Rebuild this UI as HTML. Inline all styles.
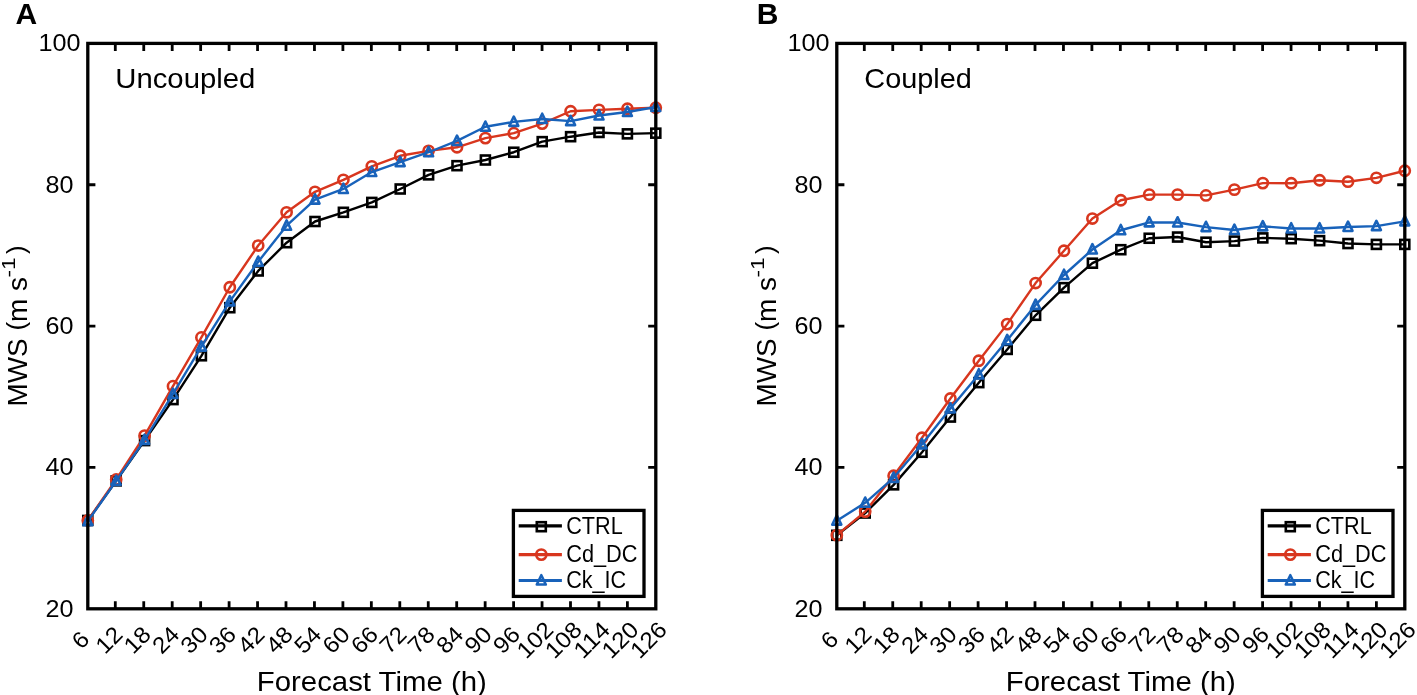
<!DOCTYPE html>
<html><head><meta charset="utf-8"><title>MWS</title>
<style>
html,body{margin:0;padding:0;background:#fff;width:1417px;height:695px;overflow:hidden;}
svg{display:block;will-change:transform;}
text{font-family:"Liberation Sans",sans-serif;fill:#000;}
</style></head><body>
<svg width="1417" height="695" viewBox="0 0 1417 695">
<rect width="1417" height="695" fill="#fff"/>
<text x="59.40" y="616.80" text-anchor="middle" font-size="23" textLength="28.0" lengthAdjust="spacingAndGlyphs">20</text>
<text x="59.40" y="475.45" text-anchor="middle" font-size="23" textLength="28.0" lengthAdjust="spacingAndGlyphs">40</text>
<text x="59.40" y="334.10" text-anchor="middle" font-size="23" textLength="28.0" lengthAdjust="spacingAndGlyphs">60</text>
<text x="59.40" y="192.75" text-anchor="middle" font-size="23" textLength="28.0" lengthAdjust="spacingAndGlyphs">80</text>
<text x="59.40" y="51.40" text-anchor="middle" font-size="23" textLength="42.0" lengthAdjust="spacingAndGlyphs">100</text>
<text transform="translate(80.40,639.80) rotate(-45)" x="0" y="8.0" text-anchor="middle" font-size="23" textLength="13.5" lengthAdjust="spacingAndGlyphs">6</text>
<text transform="translate(108.80,639.80) rotate(-45)" x="0" y="8.0" text-anchor="middle" font-size="23" textLength="27.0" lengthAdjust="spacingAndGlyphs">12</text>
<text transform="translate(137.20,639.80) rotate(-45)" x="0" y="8.0" text-anchor="middle" font-size="23" textLength="27.0" lengthAdjust="spacingAndGlyphs">18</text>
<text transform="translate(165.60,639.80) rotate(-45)" x="0" y="8.0" text-anchor="middle" font-size="23" textLength="27.0" lengthAdjust="spacingAndGlyphs">24</text>
<text transform="translate(194.00,639.80) rotate(-45)" x="0" y="8.0" text-anchor="middle" font-size="23" textLength="27.0" lengthAdjust="spacingAndGlyphs">30</text>
<text transform="translate(222.40,639.80) rotate(-45)" x="0" y="8.0" text-anchor="middle" font-size="23" textLength="27.0" lengthAdjust="spacingAndGlyphs">36</text>
<text transform="translate(250.80,639.80) rotate(-45)" x="0" y="8.0" text-anchor="middle" font-size="23" textLength="27.0" lengthAdjust="spacingAndGlyphs">42</text>
<text transform="translate(279.20,639.80) rotate(-45)" x="0" y="8.0" text-anchor="middle" font-size="23" textLength="27.0" lengthAdjust="spacingAndGlyphs">48</text>
<text transform="translate(307.60,639.80) rotate(-45)" x="0" y="8.0" text-anchor="middle" font-size="23" textLength="27.0" lengthAdjust="spacingAndGlyphs">54</text>
<text transform="translate(336.00,639.80) rotate(-45)" x="0" y="8.0" text-anchor="middle" font-size="23" textLength="27.0" lengthAdjust="spacingAndGlyphs">60</text>
<text transform="translate(364.40,639.80) rotate(-45)" x="0" y="8.0" text-anchor="middle" font-size="23" textLength="27.0" lengthAdjust="spacingAndGlyphs">66</text>
<text transform="translate(392.80,639.80) rotate(-45)" x="0" y="8.0" text-anchor="middle" font-size="23" textLength="27.0" lengthAdjust="spacingAndGlyphs">72</text>
<text transform="translate(421.20,639.80) rotate(-45)" x="0" y="8.0" text-anchor="middle" font-size="23" textLength="27.0" lengthAdjust="spacingAndGlyphs">78</text>
<text transform="translate(449.60,639.80) rotate(-45)" x="0" y="8.0" text-anchor="middle" font-size="23" textLength="27.0" lengthAdjust="spacingAndGlyphs">84</text>
<text transform="translate(478.00,639.80) rotate(-45)" x="0" y="8.0" text-anchor="middle" font-size="23" textLength="27.0" lengthAdjust="spacingAndGlyphs">90</text>
<text transform="translate(506.40,639.80) rotate(-45)" x="0" y="8.0" text-anchor="middle" font-size="23" textLength="27.0" lengthAdjust="spacingAndGlyphs">96</text>
<text transform="translate(534.80,639.80) rotate(-45)" x="0" y="8.0" text-anchor="middle" font-size="23" textLength="40.5" lengthAdjust="spacingAndGlyphs">102</text>
<text transform="translate(563.20,639.80) rotate(-45)" x="0" y="8.0" text-anchor="middle" font-size="23" textLength="40.5" lengthAdjust="spacingAndGlyphs">108</text>
<text transform="translate(591.60,639.80) rotate(-45)" x="0" y="8.0" text-anchor="middle" font-size="23" textLength="40.5" lengthAdjust="spacingAndGlyphs">114</text>
<text transform="translate(620.00,639.80) rotate(-45)" x="0" y="8.0" text-anchor="middle" font-size="23" textLength="40.5" lengthAdjust="spacingAndGlyphs">120</text>
<text transform="translate(648.40,639.80) rotate(-45)" x="0" y="8.0" text-anchor="middle" font-size="23" textLength="40.5" lengthAdjust="spacingAndGlyphs">126</text>
<text x="371.80" y="690.6" text-anchor="middle" font-size="27.5" textLength="230" lengthAdjust="spacingAndGlyphs">Forecast Time (h)</text>
<g transform="translate(27.40,404.9) rotate(-90)"><text x="-1.6" y="0" font-size="27.5" textLength="129.5" lengthAdjust="spacingAndGlyphs">MWS <tspan dy="-2.6" font-size="25.7">(</tspan><tspan dy="2.6">m s</tspan></text><text x="127.5" y="-12.7" font-size="18.6" textLength="20" lengthAdjust="spacingAndGlyphs">-1</text><text x="151" y="-2.6" font-size="25.7">)</text></g>
<text x="115.30" y="88.4" font-size="28" textLength="140" lengthAdjust="spacingAndGlyphs">Uncoupled</text>
<text x="15.40" y="24.2" font-size="30" font-weight="bold">A</text>
<path d="M87.80 520.46 L116.20 480.88 L144.60 440.59 L173.00 399.60 L201.40 355.78 L229.80 307.72 L258.20 270.97 L286.60 242.70 L315.00 221.50 L343.40 212.31 L371.80 202.42 L400.20 188.99 L428.60 174.86 L457.00 165.67 L485.40 160.01 L513.80 152.24 L542.20 141.64 L570.60 136.69 L599.00 132.45 L627.40 133.86 L655.80 133.16" fill="none" stroke="#000000" stroke-width="2.4" stroke-linejoin="round"/><rect x="83.30" y="515.96" width="9.00" height="9.00" fill="none" stroke="#000000" stroke-width="2.6"/><rect x="111.70" y="476.38" width="9.00" height="9.00" fill="none" stroke="#000000" stroke-width="2.6"/><rect x="140.10" y="436.09" width="9.00" height="9.00" fill="none" stroke="#000000" stroke-width="2.6"/><rect x="168.50" y="395.10" width="9.00" height="9.00" fill="none" stroke="#000000" stroke-width="2.6"/><rect x="196.90" y="351.28" width="9.00" height="9.00" fill="none" stroke="#000000" stroke-width="2.6"/><rect x="225.30" y="303.22" width="9.00" height="9.00" fill="none" stroke="#000000" stroke-width="2.6"/><rect x="253.70" y="266.47" width="9.00" height="9.00" fill="none" stroke="#000000" stroke-width="2.6"/><rect x="282.10" y="238.20" width="9.00" height="9.00" fill="none" stroke="#000000" stroke-width="2.6"/><rect x="310.50" y="217.00" width="9.00" height="9.00" fill="none" stroke="#000000" stroke-width="2.6"/><rect x="338.90" y="207.81" width="9.00" height="9.00" fill="none" stroke="#000000" stroke-width="2.6"/><rect x="367.30" y="197.92" width="9.00" height="9.00" fill="none" stroke="#000000" stroke-width="2.6"/><rect x="395.70" y="184.49" width="9.00" height="9.00" fill="none" stroke="#000000" stroke-width="2.6"/><rect x="424.10" y="170.36" width="9.00" height="9.00" fill="none" stroke="#000000" stroke-width="2.6"/><rect x="452.50" y="161.17" width="9.00" height="9.00" fill="none" stroke="#000000" stroke-width="2.6"/><rect x="480.90" y="155.51" width="9.00" height="9.00" fill="none" stroke="#000000" stroke-width="2.6"/><rect x="509.30" y="147.74" width="9.00" height="9.00" fill="none" stroke="#000000" stroke-width="2.6"/><rect x="537.70" y="137.14" width="9.00" height="9.00" fill="none" stroke="#000000" stroke-width="2.6"/><rect x="566.10" y="132.19" width="9.00" height="9.00" fill="none" stroke="#000000" stroke-width="2.6"/><rect x="594.50" y="127.95" width="9.00" height="9.00" fill="none" stroke="#000000" stroke-width="2.6"/><rect x="622.90" y="129.36" width="9.00" height="9.00" fill="none" stroke="#000000" stroke-width="2.6"/><rect x="651.30" y="128.66" width="9.00" height="9.00" fill="none" stroke="#000000" stroke-width="2.6"/>
<path d="M87.80 520.46 L116.20 479.46 L144.60 435.65 L173.00 386.17 L201.40 337.41 L229.80 287.23 L258.20 245.53 L286.60 212.31 L315.00 191.82 L343.40 179.80 L371.80 166.37 L400.20 155.77 L428.60 150.83 L457.00 147.29 L485.40 138.10 L513.80 133.16 L542.20 123.62 L570.60 111.25 L599.00 109.83 L627.40 108.77 L655.80 107.71" fill="none" stroke="#D8361E" stroke-width="2.4" stroke-linejoin="round"/><circle cx="87.80" cy="520.46" r="5.10" fill="none" stroke="#D8361E" stroke-width="2.6"/><circle cx="116.20" cy="479.46" r="5.10" fill="none" stroke="#D8361E" stroke-width="2.6"/><circle cx="144.60" cy="435.65" r="5.10" fill="none" stroke="#D8361E" stroke-width="2.6"/><circle cx="173.00" cy="386.17" r="5.10" fill="none" stroke="#D8361E" stroke-width="2.6"/><circle cx="201.40" cy="337.41" r="5.10" fill="none" stroke="#D8361E" stroke-width="2.6"/><circle cx="229.80" cy="287.23" r="5.10" fill="none" stroke="#D8361E" stroke-width="2.6"/><circle cx="258.20" cy="245.53" r="5.10" fill="none" stroke="#D8361E" stroke-width="2.6"/><circle cx="286.60" cy="212.31" r="5.10" fill="none" stroke="#D8361E" stroke-width="2.6"/><circle cx="315.00" cy="191.82" r="5.10" fill="none" stroke="#D8361E" stroke-width="2.6"/><circle cx="343.40" cy="179.80" r="5.10" fill="none" stroke="#D8361E" stroke-width="2.6"/><circle cx="371.80" cy="166.37" r="5.10" fill="none" stroke="#D8361E" stroke-width="2.6"/><circle cx="400.20" cy="155.77" r="5.10" fill="none" stroke="#D8361E" stroke-width="2.6"/><circle cx="428.60" cy="150.83" r="5.10" fill="none" stroke="#D8361E" stroke-width="2.6"/><circle cx="457.00" cy="147.29" r="5.10" fill="none" stroke="#D8361E" stroke-width="2.6"/><circle cx="485.40" cy="138.10" r="5.10" fill="none" stroke="#D8361E" stroke-width="2.6"/><circle cx="513.80" cy="133.16" r="5.10" fill="none" stroke="#D8361E" stroke-width="2.6"/><circle cx="542.20" cy="123.62" r="5.10" fill="none" stroke="#D8361E" stroke-width="2.6"/><circle cx="570.60" cy="111.25" r="5.10" fill="none" stroke="#D8361E" stroke-width="2.6"/><circle cx="599.00" cy="109.83" r="5.10" fill="none" stroke="#D8361E" stroke-width="2.6"/><circle cx="627.40" cy="108.77" r="5.10" fill="none" stroke="#D8361E" stroke-width="2.6"/><circle cx="655.80" cy="107.71" r="5.10" fill="none" stroke="#D8361E" stroke-width="2.6"/>
<path d="M87.80 521.16 L116.20 480.88 L144.60 439.89 L173.00 393.95 L201.40 346.60 L229.80 301.36 L258.20 261.79 L286.60 225.74 L315.00 199.59 L343.40 188.99 L371.80 172.03 L400.20 162.13 L428.60 152.24 L457.00 140.93 L485.40 126.80 L513.80 121.85 L542.20 119.02 L570.60 121.14 L599.00 115.49 L627.40 111.95 L655.80 107.01" fill="none" stroke="#1862BA" stroke-width="2.4" stroke-linejoin="round"/><path d="M87.80 515.86L92.30 525.16L83.30 525.16Z" fill="none" stroke="#1862BA" stroke-width="2.6" stroke-linejoin="round"/><path d="M116.20 475.58L120.70 484.88L111.70 484.88Z" fill="none" stroke="#1862BA" stroke-width="2.6" stroke-linejoin="round"/><path d="M144.60 434.59L149.10 443.89L140.10 443.89Z" fill="none" stroke="#1862BA" stroke-width="2.6" stroke-linejoin="round"/><path d="M173.00 388.65L177.50 397.95L168.50 397.95Z" fill="none" stroke="#1862BA" stroke-width="2.6" stroke-linejoin="round"/><path d="M201.40 341.30L205.90 350.60L196.90 350.60Z" fill="none" stroke="#1862BA" stroke-width="2.6" stroke-linejoin="round"/><path d="M229.80 296.06L234.30 305.36L225.30 305.36Z" fill="none" stroke="#1862BA" stroke-width="2.6" stroke-linejoin="round"/><path d="M258.20 256.49L262.70 265.79L253.70 265.79Z" fill="none" stroke="#1862BA" stroke-width="2.6" stroke-linejoin="round"/><path d="M286.60 220.44L291.10 229.74L282.10 229.74Z" fill="none" stroke="#1862BA" stroke-width="2.6" stroke-linejoin="round"/><path d="M315.00 194.29L319.50 203.59L310.50 203.59Z" fill="none" stroke="#1862BA" stroke-width="2.6" stroke-linejoin="round"/><path d="M343.40 183.69L347.90 192.99L338.90 192.99Z" fill="none" stroke="#1862BA" stroke-width="2.6" stroke-linejoin="round"/><path d="M371.80 166.73L376.30 176.03L367.30 176.03Z" fill="none" stroke="#1862BA" stroke-width="2.6" stroke-linejoin="round"/><path d="M400.20 156.83L404.70 166.13L395.70 166.13Z" fill="none" stroke="#1862BA" stroke-width="2.6" stroke-linejoin="round"/><path d="M428.60 146.94L433.10 156.24L424.10 156.24Z" fill="none" stroke="#1862BA" stroke-width="2.6" stroke-linejoin="round"/><path d="M457.00 135.63L461.50 144.93L452.50 144.93Z" fill="none" stroke="#1862BA" stroke-width="2.6" stroke-linejoin="round"/><path d="M485.40 121.50L489.90 130.80L480.90 130.80Z" fill="none" stroke="#1862BA" stroke-width="2.6" stroke-linejoin="round"/><path d="M513.80 116.55L518.30 125.85L509.30 125.85Z" fill="none" stroke="#1862BA" stroke-width="2.6" stroke-linejoin="round"/><path d="M542.20 113.72L546.70 123.02L537.70 123.02Z" fill="none" stroke="#1862BA" stroke-width="2.6" stroke-linejoin="round"/><path d="M570.60 115.84L575.10 125.14L566.10 125.14Z" fill="none" stroke="#1862BA" stroke-width="2.6" stroke-linejoin="round"/><path d="M599.00 110.19L603.50 119.49L594.50 119.49Z" fill="none" stroke="#1862BA" stroke-width="2.6" stroke-linejoin="round"/><path d="M627.40 106.65L631.90 115.95L622.90 115.95Z" fill="none" stroke="#1862BA" stroke-width="2.6" stroke-linejoin="round"/><path d="M655.80 101.71L660.30 111.01L651.30 111.01Z" fill="none" stroke="#1862BA" stroke-width="2.6" stroke-linejoin="round"/>
<path d="M115.30 608.80V601.20M115.30 43.40V51.00M143.75 608.80V601.20M143.75 43.40V51.00M172.20 608.80V601.20M172.20 43.40V51.00M200.65 608.80V601.20M200.65 43.40V51.00M229.10 608.80V601.20M229.10 43.40V51.00M257.55 608.80V601.20M257.55 43.40V51.00M286.00 608.80V601.20M286.00 43.40V51.00M314.45 608.80V601.20M314.45 43.40V51.00M342.90 608.80V601.20M342.90 43.40V51.00M371.35 608.80V601.20M371.35 43.40V51.00M399.80 608.80V601.20M399.80 43.40V51.00M428.25 608.80V601.20M428.25 43.40V51.00M456.70 608.80V601.20M456.70 43.40V51.00M485.15 608.80V601.20M485.15 43.40V51.00M513.60 608.80V601.20M513.60 43.40V51.00M542.05 608.80V601.20M542.05 43.40V51.00M570.50 608.80V601.20M570.50 43.40V51.00M598.95 608.80V601.20M598.95 43.40V51.00M627.40 608.80V601.20M627.40 43.40V51.00M87.80 467.45H95.40M655.80 467.45H648.20M87.80 326.10H95.40M655.80 326.10H648.20M87.80 184.75H95.40M655.80 184.75H648.20" stroke="#000" stroke-width="2.8" fill="none"/>
<rect x="87.80" y="43.40" width="568.00" height="565.40" fill="none" stroke="#000" stroke-width="3.3"/>
<rect x="513.40" y="510.40" width="130.6" height="86" fill="#fff" stroke="#000" stroke-width="3.3"/>
<path d="M518.70 525.90H561.90" stroke="#000000" stroke-width="3.2"/>
<rect x="536.80" y="522.20" width="9.00" height="9.00" fill="none" stroke="#000000" stroke-width="2.6"/>
<text x="566.20" y="533.80" font-size="23" textLength="56.5" lengthAdjust="spacingAndGlyphs">CTRL</text>
<path d="M518.70 554.60H561.90" stroke="#D8361E" stroke-width="3.2"/>
<circle cx="541.30" cy="554.60" r="5.10" fill="none" stroke="#D8361E" stroke-width="2.6"/>
<text x="566.20" y="561.80" font-size="23" textLength="71.3" lengthAdjust="spacingAndGlyphs">Cd_DC</text>
<path d="M518.70 580.50H561.90" stroke="#1862BA" stroke-width="3.2"/>
<path d="M541.30 575.20L545.80 584.50L536.80 584.50Z" fill="none" stroke="#1862BA" stroke-width="2.6" stroke-linejoin="round"/>
<text x="566.20" y="587.90" font-size="23" textLength="60.0" lengthAdjust="spacingAndGlyphs">Ck_IC</text>
<text x="808.40" y="616.80" text-anchor="middle" font-size="23" textLength="28.0" lengthAdjust="spacingAndGlyphs">20</text>
<text x="808.40" y="475.45" text-anchor="middle" font-size="23" textLength="28.0" lengthAdjust="spacingAndGlyphs">40</text>
<text x="808.40" y="334.10" text-anchor="middle" font-size="23" textLength="28.0" lengthAdjust="spacingAndGlyphs">60</text>
<text x="808.40" y="192.75" text-anchor="middle" font-size="23" textLength="28.0" lengthAdjust="spacingAndGlyphs">80</text>
<text x="808.40" y="51.40" text-anchor="middle" font-size="23" textLength="42.0" lengthAdjust="spacingAndGlyphs">100</text>
<text transform="translate(829.40,639.80) rotate(-45)" x="0" y="8.0" text-anchor="middle" font-size="23" textLength="13.5" lengthAdjust="spacingAndGlyphs">6</text>
<text transform="translate(857.80,639.80) rotate(-45)" x="0" y="8.0" text-anchor="middle" font-size="23" textLength="27.0" lengthAdjust="spacingAndGlyphs">12</text>
<text transform="translate(886.20,639.80) rotate(-45)" x="0" y="8.0" text-anchor="middle" font-size="23" textLength="27.0" lengthAdjust="spacingAndGlyphs">18</text>
<text transform="translate(914.60,639.80) rotate(-45)" x="0" y="8.0" text-anchor="middle" font-size="23" textLength="27.0" lengthAdjust="spacingAndGlyphs">24</text>
<text transform="translate(943.00,639.80) rotate(-45)" x="0" y="8.0" text-anchor="middle" font-size="23" textLength="27.0" lengthAdjust="spacingAndGlyphs">30</text>
<text transform="translate(971.40,639.80) rotate(-45)" x="0" y="8.0" text-anchor="middle" font-size="23" textLength="27.0" lengthAdjust="spacingAndGlyphs">36</text>
<text transform="translate(999.80,639.80) rotate(-45)" x="0" y="8.0" text-anchor="middle" font-size="23" textLength="27.0" lengthAdjust="spacingAndGlyphs">42</text>
<text transform="translate(1028.20,639.80) rotate(-45)" x="0" y="8.0" text-anchor="middle" font-size="23" textLength="27.0" lengthAdjust="spacingAndGlyphs">48</text>
<text transform="translate(1056.60,639.80) rotate(-45)" x="0" y="8.0" text-anchor="middle" font-size="23" textLength="27.0" lengthAdjust="spacingAndGlyphs">54</text>
<text transform="translate(1085.00,639.80) rotate(-45)" x="0" y="8.0" text-anchor="middle" font-size="23" textLength="27.0" lengthAdjust="spacingAndGlyphs">60</text>
<text transform="translate(1113.40,639.80) rotate(-45)" x="0" y="8.0" text-anchor="middle" font-size="23" textLength="27.0" lengthAdjust="spacingAndGlyphs">66</text>
<text transform="translate(1141.80,639.80) rotate(-45)" x="0" y="8.0" text-anchor="middle" font-size="23" textLength="27.0" lengthAdjust="spacingAndGlyphs">72</text>
<text transform="translate(1170.20,639.80) rotate(-45)" x="0" y="8.0" text-anchor="middle" font-size="23" textLength="27.0" lengthAdjust="spacingAndGlyphs">78</text>
<text transform="translate(1198.60,639.80) rotate(-45)" x="0" y="8.0" text-anchor="middle" font-size="23" textLength="27.0" lengthAdjust="spacingAndGlyphs">84</text>
<text transform="translate(1227.00,639.80) rotate(-45)" x="0" y="8.0" text-anchor="middle" font-size="23" textLength="27.0" lengthAdjust="spacingAndGlyphs">90</text>
<text transform="translate(1255.40,639.80) rotate(-45)" x="0" y="8.0" text-anchor="middle" font-size="23" textLength="27.0" lengthAdjust="spacingAndGlyphs">96</text>
<text transform="translate(1283.80,639.80) rotate(-45)" x="0" y="8.0" text-anchor="middle" font-size="23" textLength="40.5" lengthAdjust="spacingAndGlyphs">102</text>
<text transform="translate(1312.20,639.80) rotate(-45)" x="0" y="8.0" text-anchor="middle" font-size="23" textLength="40.5" lengthAdjust="spacingAndGlyphs">108</text>
<text transform="translate(1340.60,639.80) rotate(-45)" x="0" y="8.0" text-anchor="middle" font-size="23" textLength="40.5" lengthAdjust="spacingAndGlyphs">114</text>
<text transform="translate(1369.00,639.80) rotate(-45)" x="0" y="8.0" text-anchor="middle" font-size="23" textLength="40.5" lengthAdjust="spacingAndGlyphs">120</text>
<text transform="translate(1397.40,639.80) rotate(-45)" x="0" y="8.0" text-anchor="middle" font-size="23" textLength="40.5" lengthAdjust="spacingAndGlyphs">126</text>
<text x="1120.80" y="690.6" text-anchor="middle" font-size="27.5" textLength="230" lengthAdjust="spacingAndGlyphs">Forecast Time (h)</text>
<g transform="translate(776.40,404.9) rotate(-90)"><text x="-1.6" y="0" font-size="27.5" textLength="129.5" lengthAdjust="spacingAndGlyphs">MWS <tspan dy="-2.6" font-size="25.7">(</tspan><tspan dy="2.6">m s</tspan></text><text x="127.5" y="-12.7" font-size="18.6" textLength="20" lengthAdjust="spacingAndGlyphs">-1</text><text x="151" y="-2.6" font-size="25.7">)</text></g>
<text x="864.30" y="88.4" font-size="28" textLength="107.6" lengthAdjust="spacingAndGlyphs">Coupled</text>
<text x="756.70" y="24.2" font-size="30" font-weight="bold">B</text>
<path d="M836.80 535.30 L865.20 513.04 L893.60 484.84 L922.00 452.25 L950.40 417.06 L978.80 382.64 L1007.20 349.42 L1035.60 315.29 L1064.00 287.65 L1092.40 263.20 L1120.80 249.70 L1149.20 238.25 L1177.60 237.05 L1206.00 242.21 L1234.40 241.08 L1262.80 237.90 L1291.20 238.68 L1319.60 240.65 L1348.00 243.55 L1376.40 244.40 L1404.80 244.40" fill="none" stroke="#000000" stroke-width="2.4" stroke-linejoin="round"/><rect x="832.30" y="530.80" width="9.00" height="9.00" fill="none" stroke="#000000" stroke-width="2.6"/><rect x="860.70" y="508.54" width="9.00" height="9.00" fill="none" stroke="#000000" stroke-width="2.6"/><rect x="889.10" y="480.34" width="9.00" height="9.00" fill="none" stroke="#000000" stroke-width="2.6"/><rect x="917.50" y="447.75" width="9.00" height="9.00" fill="none" stroke="#000000" stroke-width="2.6"/><rect x="945.90" y="412.56" width="9.00" height="9.00" fill="none" stroke="#000000" stroke-width="2.6"/><rect x="974.30" y="378.14" width="9.00" height="9.00" fill="none" stroke="#000000" stroke-width="2.6"/><rect x="1002.70" y="344.92" width="9.00" height="9.00" fill="none" stroke="#000000" stroke-width="2.6"/><rect x="1031.10" y="310.79" width="9.00" height="9.00" fill="none" stroke="#000000" stroke-width="2.6"/><rect x="1059.50" y="283.15" width="9.00" height="9.00" fill="none" stroke="#000000" stroke-width="2.6"/><rect x="1087.90" y="258.70" width="9.00" height="9.00" fill="none" stroke="#000000" stroke-width="2.6"/><rect x="1116.30" y="245.20" width="9.00" height="9.00" fill="none" stroke="#000000" stroke-width="2.6"/><rect x="1144.70" y="233.75" width="9.00" height="9.00" fill="none" stroke="#000000" stroke-width="2.6"/><rect x="1173.10" y="232.55" width="9.00" height="9.00" fill="none" stroke="#000000" stroke-width="2.6"/><rect x="1201.50" y="237.71" width="9.00" height="9.00" fill="none" stroke="#000000" stroke-width="2.6"/><rect x="1229.90" y="236.58" width="9.00" height="9.00" fill="none" stroke="#000000" stroke-width="2.6"/><rect x="1258.30" y="233.40" width="9.00" height="9.00" fill="none" stroke="#000000" stroke-width="2.6"/><rect x="1286.70" y="234.18" width="9.00" height="9.00" fill="none" stroke="#000000" stroke-width="2.6"/><rect x="1315.10" y="236.15" width="9.00" height="9.00" fill="none" stroke="#000000" stroke-width="2.6"/><rect x="1343.50" y="239.05" width="9.00" height="9.00" fill="none" stroke="#000000" stroke-width="2.6"/><rect x="1371.90" y="239.90" width="9.00" height="9.00" fill="none" stroke="#000000" stroke-width="2.6"/><rect x="1400.30" y="239.90" width="9.00" height="9.00" fill="none" stroke="#000000" stroke-width="2.6"/>
<path d="M836.80 535.16 L865.20 511.62 L893.60 475.72 L922.00 437.77 L950.40 398.47 L978.80 360.73 L1007.20 324.12 L1035.60 283.06 L1064.00 250.76 L1092.40 218.53 L1120.80 200.23 L1149.20 194.64 L1177.60 194.64 L1206.00 195.42 L1234.40 189.63 L1262.80 183.12 L1291.20 183.20 L1319.60 180.23 L1348.00 181.71 L1376.40 177.82 L1404.80 170.76" fill="none" stroke="#D8361E" stroke-width="2.4" stroke-linejoin="round"/><circle cx="836.80" cy="535.16" r="5.10" fill="none" stroke="#D8361E" stroke-width="2.6"/><circle cx="865.20" cy="511.62" r="5.10" fill="none" stroke="#D8361E" stroke-width="2.6"/><circle cx="893.60" cy="475.72" r="5.10" fill="none" stroke="#D8361E" stroke-width="2.6"/><circle cx="922.00" cy="437.77" r="5.10" fill="none" stroke="#D8361E" stroke-width="2.6"/><circle cx="950.40" cy="398.47" r="5.10" fill="none" stroke="#D8361E" stroke-width="2.6"/><circle cx="978.80" cy="360.73" r="5.10" fill="none" stroke="#D8361E" stroke-width="2.6"/><circle cx="1007.20" cy="324.12" r="5.10" fill="none" stroke="#D8361E" stroke-width="2.6"/><circle cx="1035.60" cy="283.06" r="5.10" fill="none" stroke="#D8361E" stroke-width="2.6"/><circle cx="1064.00" cy="250.76" r="5.10" fill="none" stroke="#D8361E" stroke-width="2.6"/><circle cx="1092.40" cy="218.53" r="5.10" fill="none" stroke="#D8361E" stroke-width="2.6"/><circle cx="1120.80" cy="200.23" r="5.10" fill="none" stroke="#D8361E" stroke-width="2.6"/><circle cx="1149.20" cy="194.64" r="5.10" fill="none" stroke="#D8361E" stroke-width="2.6"/><circle cx="1177.60" cy="194.64" r="5.10" fill="none" stroke="#D8361E" stroke-width="2.6"/><circle cx="1206.00" cy="195.42" r="5.10" fill="none" stroke="#D8361E" stroke-width="2.6"/><circle cx="1234.40" cy="189.63" r="5.10" fill="none" stroke="#D8361E" stroke-width="2.6"/><circle cx="1262.80" cy="183.12" r="5.10" fill="none" stroke="#D8361E" stroke-width="2.6"/><circle cx="1291.20" cy="183.20" r="5.10" fill="none" stroke="#D8361E" stroke-width="2.6"/><circle cx="1319.60" cy="180.23" r="5.10" fill="none" stroke="#D8361E" stroke-width="2.6"/><circle cx="1348.00" cy="181.71" r="5.10" fill="none" stroke="#D8361E" stroke-width="2.6"/><circle cx="1376.40" cy="177.82" r="5.10" fill="none" stroke="#D8361E" stroke-width="2.6"/><circle cx="1404.80" cy="170.76" r="5.10" fill="none" stroke="#D8361E" stroke-width="2.6"/>
<path d="M836.80 520.67 L865.20 502.79 L893.60 477.84 L922.00 444.34 L950.40 408.44 L978.80 374.51 L1007.20 340.23 L1035.60 304.90 L1064.00 275.00 L1092.40 249.49 L1120.80 230.26 L1149.20 222.35 L1177.60 222.56 L1206.00 227.08 L1234.40 229.98 L1262.80 226.38 L1291.20 228.50 L1319.60 228.50 L1348.00 226.94 L1376.40 226.17 L1404.80 221.36" fill="none" stroke="#1862BA" stroke-width="2.4" stroke-linejoin="round"/><path d="M836.80 515.37L841.30 524.67L832.30 524.67Z" fill="none" stroke="#1862BA" stroke-width="2.6" stroke-linejoin="round"/><path d="M865.20 497.49L869.70 506.79L860.70 506.79Z" fill="none" stroke="#1862BA" stroke-width="2.6" stroke-linejoin="round"/><path d="M893.60 472.54L898.10 481.84L889.10 481.84Z" fill="none" stroke="#1862BA" stroke-width="2.6" stroke-linejoin="round"/><path d="M922.00 439.04L926.50 448.34L917.50 448.34Z" fill="none" stroke="#1862BA" stroke-width="2.6" stroke-linejoin="round"/><path d="M950.40 403.14L954.90 412.44L945.90 412.44Z" fill="none" stroke="#1862BA" stroke-width="2.6" stroke-linejoin="round"/><path d="M978.80 369.21L983.30 378.51L974.30 378.51Z" fill="none" stroke="#1862BA" stroke-width="2.6" stroke-linejoin="round"/><path d="M1007.20 334.93L1011.70 344.23L1002.70 344.23Z" fill="none" stroke="#1862BA" stroke-width="2.6" stroke-linejoin="round"/><path d="M1035.60 299.60L1040.10 308.90L1031.10 308.90Z" fill="none" stroke="#1862BA" stroke-width="2.6" stroke-linejoin="round"/><path d="M1064.00 269.70L1068.50 279.00L1059.50 279.00Z" fill="none" stroke="#1862BA" stroke-width="2.6" stroke-linejoin="round"/><path d="M1092.40 244.19L1096.90 253.49L1087.90 253.49Z" fill="none" stroke="#1862BA" stroke-width="2.6" stroke-linejoin="round"/><path d="M1120.80 224.96L1125.30 234.26L1116.30 234.26Z" fill="none" stroke="#1862BA" stroke-width="2.6" stroke-linejoin="round"/><path d="M1149.20 217.05L1153.70 226.35L1144.70 226.35Z" fill="none" stroke="#1862BA" stroke-width="2.6" stroke-linejoin="round"/><path d="M1177.60 217.26L1182.10 226.56L1173.10 226.56Z" fill="none" stroke="#1862BA" stroke-width="2.6" stroke-linejoin="round"/><path d="M1206.00 221.78L1210.50 231.08L1201.50 231.08Z" fill="none" stroke="#1862BA" stroke-width="2.6" stroke-linejoin="round"/><path d="M1234.40 224.68L1238.90 233.98L1229.90 233.98Z" fill="none" stroke="#1862BA" stroke-width="2.6" stroke-linejoin="round"/><path d="M1262.80 221.08L1267.30 230.38L1258.30 230.38Z" fill="none" stroke="#1862BA" stroke-width="2.6" stroke-linejoin="round"/><path d="M1291.20 223.20L1295.70 232.50L1286.70 232.50Z" fill="none" stroke="#1862BA" stroke-width="2.6" stroke-linejoin="round"/><path d="M1319.60 223.20L1324.10 232.50L1315.10 232.50Z" fill="none" stroke="#1862BA" stroke-width="2.6" stroke-linejoin="round"/><path d="M1348.00 221.64L1352.50 230.94L1343.50 230.94Z" fill="none" stroke="#1862BA" stroke-width="2.6" stroke-linejoin="round"/><path d="M1376.40 220.87L1380.90 230.17L1371.90 230.17Z" fill="none" stroke="#1862BA" stroke-width="2.6" stroke-linejoin="round"/><path d="M1404.80 216.06L1409.30 225.36L1400.30 225.36Z" fill="none" stroke="#1862BA" stroke-width="2.6" stroke-linejoin="round"/>
<path d="M864.30 608.80V601.20M864.30 43.40V51.00M892.75 608.80V601.20M892.75 43.40V51.00M921.20 608.80V601.20M921.20 43.40V51.00M949.65 608.80V601.20M949.65 43.40V51.00M978.10 608.80V601.20M978.10 43.40V51.00M1006.55 608.80V601.20M1006.55 43.40V51.00M1035.00 608.80V601.20M1035.00 43.40V51.00M1063.45 608.80V601.20M1063.45 43.40V51.00M1091.90 608.80V601.20M1091.90 43.40V51.00M1120.35 608.80V601.20M1120.35 43.40V51.00M1148.80 608.80V601.20M1148.80 43.40V51.00M1177.25 608.80V601.20M1177.25 43.40V51.00M1205.70 608.80V601.20M1205.70 43.40V51.00M1234.15 608.80V601.20M1234.15 43.40V51.00M1262.60 608.80V601.20M1262.60 43.40V51.00M1291.05 608.80V601.20M1291.05 43.40V51.00M1319.50 608.80V601.20M1319.50 43.40V51.00M1347.95 608.80V601.20M1347.95 43.40V51.00M1376.40 608.80V601.20M1376.40 43.40V51.00M836.80 467.45H844.40M1404.80 467.45H1397.20M836.80 326.10H844.40M1404.80 326.10H1397.20M836.80 184.75H844.40M1404.80 184.75H1397.20" stroke="#000" stroke-width="2.8" fill="none"/>
<rect x="836.80" y="43.40" width="568.00" height="565.40" fill="none" stroke="#000" stroke-width="3.3"/>
<rect x="1262.40" y="510.40" width="130.6" height="86" fill="#fff" stroke="#000" stroke-width="3.3"/>
<path d="M1267.70 525.90H1310.90" stroke="#000000" stroke-width="3.2"/>
<rect x="1285.80" y="522.20" width="9.00" height="9.00" fill="none" stroke="#000000" stroke-width="2.6"/>
<text x="1315.20" y="533.80" font-size="23" textLength="56.5" lengthAdjust="spacingAndGlyphs">CTRL</text>
<path d="M1267.70 554.60H1310.90" stroke="#D8361E" stroke-width="3.2"/>
<circle cx="1290.30" cy="554.60" r="5.10" fill="none" stroke="#D8361E" stroke-width="2.6"/>
<text x="1315.20" y="561.80" font-size="23" textLength="71.3" lengthAdjust="spacingAndGlyphs">Cd_DC</text>
<path d="M1267.70 580.50H1310.90" stroke="#1862BA" stroke-width="3.2"/>
<path d="M1290.30 575.20L1294.80 584.50L1285.80 584.50Z" fill="none" stroke="#1862BA" stroke-width="2.6" stroke-linejoin="round"/>
<text x="1315.20" y="587.90" font-size="23" textLength="60.0" lengthAdjust="spacingAndGlyphs">Ck_IC</text>
</svg>
</body></html>
